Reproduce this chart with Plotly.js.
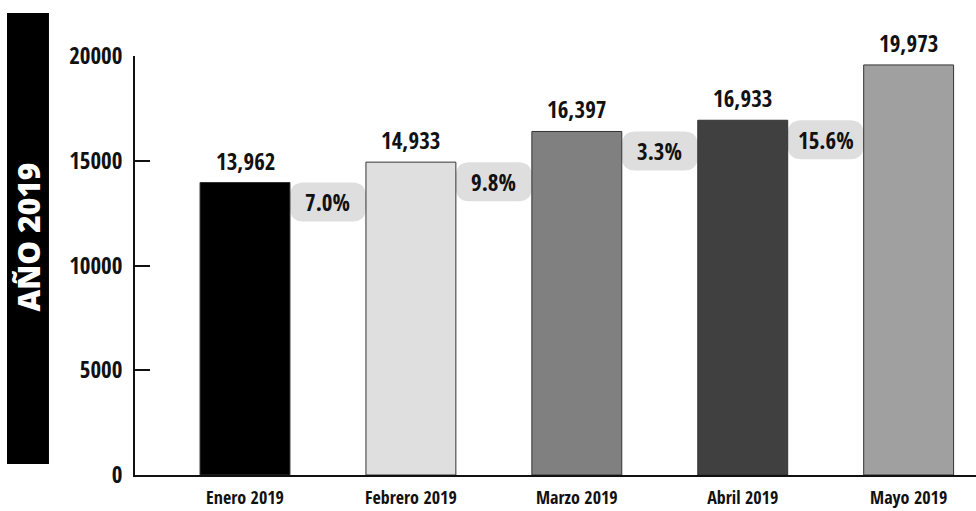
<!DOCTYPE html>
<html>
<head>
<meta charset="utf-8">
<script src="https://cdn.plot.ly/plotly-3.0.1.min.js"></script>
<style>
  html, body { margin: 0; padding: 0; background: #ffffff; }
  #chart { width: 976px; height: 511px; }
</style>
</head>
<body>
<div id="chart"></div>
<script>
// ---- data ----
const categories = ["Enero 2019", "Febrero 2019", "Marzo 2019", "Abril 2019", "Mayo 2019"];
const values = [13962, 14933, 16397, 16933, 19573];
const valueLabels = ["13,962", "14,933", "16,397", "16,933", "19,973"];
const changeLabels = ["7.0%", "9.8%", "3.3%", "15.6%"];
const barColors = ["#000000", "#dfdfdf", "#808080", "#404040", "#a0a0a0"];
const yTicks = [0, 5000, 10000, 15000, 20000];
const sideTitle = "AÑO 2019";

const FONT = "'Open Sans Condensed', 'Roboto Condensed', sans-serif";

const trace = {
  type: "bar",
  x: categories,
  y: values,
  marker: { color: barColors, line: { color: "#333333", width: 1 } },
  hoverinfo: "skip",
  cliponaxis: false
};

const annotations = [];
const shapes = [];

// value labels above bars
values.forEach((v, i) => {
  annotations.push({
    x: i, y: v, xref: "x", yref: "y",
    text: "<b>" + valueLabels[i] + "</b>",
    showarrow: false, yanchor: "bottom", yshift: 4,
    font: { family: FONT, size: 23, color: "#111111" }
  });
});

// change pills between bars
const pw = 38, ph = 39, pr = 14;
const pillPath =
  `M ${-pw + pr},0 L ${pw - pr},0 Q ${pw},0 ${pw},${-pr} L ${pw},${-ph + pr} Q ${pw},${-ph} ${pw - pr},${-ph} ` +
  `L ${-pw + pr},${-ph} Q ${-pw},${-ph} ${-pw},${-ph + pr} L ${-pw},${-pr} Q ${-pw},0 ${-pw + pr},0 Z`;
changeLabels.forEach((t, i) => {
  shapes.push({
    type: "path", xref: "x", yref: "y",
    xsizemode: "pixel", ysizemode: "pixel",
    xanchor: i + 0.5, yanchor: values[i],
    path: pillPath,
    fillcolor: "#dedede", line: { width: 0 }, layer: "below"
  });
  annotations.push({
    x: i + 0.5, y: values[i], xref: "x", yref: "y",
    text: "<b>" + t + "</b>",
    showarrow: false, yanchor: "middle", yshift: -ph / 2,
    font: { family: FONT, size: 23, color: "#111111" }
  });
});

// black side banner
shapes.push({
  type: "rect", xref: "paper", yref: "paper",
  x0: -0.1522, x1: -0.1023, y0: 0.0263, y1: 1.1026,
  fillcolor: "#000000", line: { width: 0 }, layer: "above"
});
annotations.push({
  x: -0.1272, y: 0.567, xref: "paper", yref: "paper",
  text: sideTitle, textangle: -90,
  showarrow: false, xanchor: "center", yanchor: "middle",
  font: { family: "'Open Sans', Lato, sans-serif", size: 30, color: "#ffffff", weight: 800 }
});

const layout = {
  width: 976, height: 511,
  margin: { l: 135, r: 0, t: 56, b: 36 },
  paper_bgcolor: "#ffffff", plot_bgcolor: "#ffffff",
  showlegend: false,
  bargap: 0.458,
  font: { family: FONT, color: "#111111" },
  xaxis: {
    type: "category",
    range: [-0.663, 4.406],
    showline: true, linecolor: "#111111", linewidth: 2,
    showgrid: false, zeroline: false, ticks: "",
    ticklabelstandoff: 5,
    tickfont: { family: FONT, size: 18, color: "#111111", weight: "bold" }
  },
  yaxis: {
    range: [0, 20000],
    tickvals: yTicks, ticktext: yTicks.map(String),
    showline: true, linecolor: "#111111", linewidth: 2,
    showgrid: false, zeroline: false,
    ticks: "inside", ticklen: 15, tickwidth: 2, tickcolor: "#111111",
    ticklabelstandoff: 6,
    tickfont: { family: FONT, size: 23, color: "#111111", weight: "bold" }
  },
  shapes: shapes,
  annotations: annotations
};

Plotly.newPlot("chart", [trace], layout, { displayModeBar: false, staticPlot: true });
</script>
</body>
</html>
